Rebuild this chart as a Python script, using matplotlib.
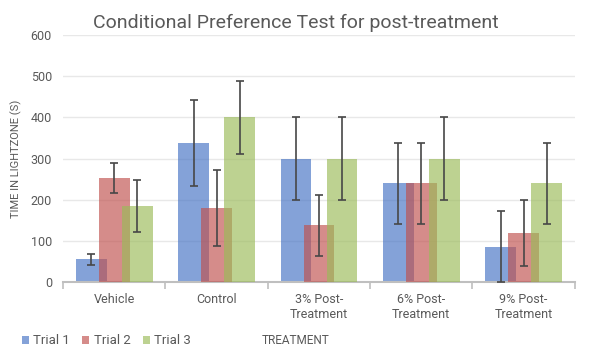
import numpy as np
import matplotlib
matplotlib.use("Agg")
import matplotlib.pyplot as plt

plt.rcParams["font.family"] = ["Roboto", "DejaVu Sans"]

# data
categories = ["Vehicle", "Control", "3% Post-\nTreatment", "6% Post-\nTreatment", "9% Post-\nTreatment"]
series = ["Trial 1", "Trial 2", "Trial 3"]
trial1 = [55, 338, 300, 240, 86]
trial2 = [253, 180, 138, 240, 119]
trial3 = [185, 400, 300, 300, 240]
trial1_err = [14, 104, 100, 98, 86]
trial2_err = [36, 92, 74, 98, 81]
trial3_err = [63, 89, 100, 100, 98]

colors = ["#4472C4", "#C0504D", "#9BBB59"]
grey = "#595959"

fig = plt.figure(figsize=(6, 3.57), dpi=100)
ax = fig.add_axes([0.105, 0.21, 0.853, 0.692])

x = np.arange(len(categories))
offsets = [-0.225, 0, 0.225]
width = 0.30
vals = [trial1, trial2, trial3]
errs = [trial1_err, trial2_err, trial3_err]

for i in range(3):
    ax.bar(x + offsets[i], vals[i], width, color=colors[i], alpha=0.66,
           label=series[i], zorder=2 + i)
    ax.errorbar(x + offsets[i], vals[i], yerr=errs[i], fmt="none",
                ecolor="#474747", elinewidth=1.2, capsize=3, capthick=1.2,
                zorder=6)

ax.set_xlim(-0.5, len(categories) - 0.5)
ax.set_ylim(0, 600)
ax.set_yticks(range(0, 601, 100))
ax.grid(axis="y", color="#E8E8E8", linewidth=1, zorder=0)
ax.set_axisbelow(True)

# category boundary ticks + centered labels
ax.set_xticks(np.arange(-0.5, len(categories), 1))
ax.set_xticklabels([])
ax.tick_params(axis="x", which="major", length=5, color="#BFBFBF", width=1.2)
ax.set_xticks(x, minor=True)
ax.set_xticklabels(categories, minor=True, color=grey, fontsize=9)
ax.tick_params(axis="x", which="minor", length=0, pad=8)
ax.tick_params(axis="y", length=0, labelcolor=grey, labelsize=9, pad=8)

for s in ["top", "right", "left"]:
    ax.spines[s].set_visible(False)
ax.spines["bottom"].set_color("#BFBFBF")
ax.spines["bottom"].set_linewidth(1.5)

ax.set_ylabel("TIME IN LIGHTZONE (S)", color=grey, fontsize=8, labelpad=6)

fig.text(0.493, 0.935, "Conditional Preference Test for post-treatment",
         ha="center", va="center", fontsize=14, color=grey)
fig.text(0.493, 0.045, "TREATMENT", ha="center", va="center", fontsize=8.5, color=grey)

handles, labels = ax.get_legend_handles_labels()
leg = fig.legend(handles, labels, loc="center left", bbox_to_anchor=(0.036, 0.045),
                 ncol=3, frameon=False, fontsize=9.5, handlelength=0.55, handleheight=0.55,
                 handletextpad=0.35, columnspacing=0.9, labelcolor=grey,
                 borderaxespad=0, borderpad=0)

plt.savefig("out.png", dpi=100)
